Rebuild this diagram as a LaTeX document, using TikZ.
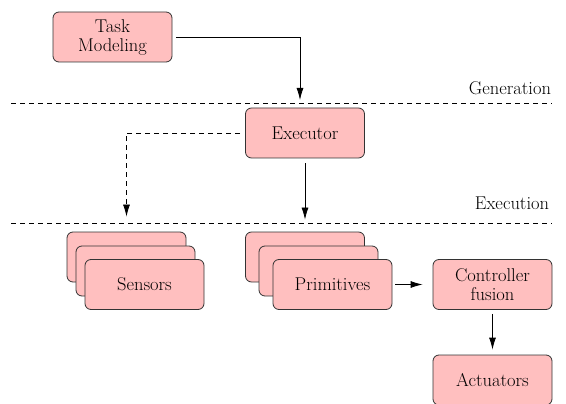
\documentclass[tikz,border=0pt]{standalone}
\usetikzlibrary{arrows.meta,positioning}
\definecolor{blockpink}{RGB}{255,191,191}

\begin{document}
\begin{tikzpicture}[x=1pt, y=-1pt, font=\fontsize{18.5}{19}\selectfont]

	\tikzstyle{block}=[rectangle, rounded corners=6pt, draw=black!80, line width=0.8pt, fill=blockpink, text=black, minimum width=119pt, minimum height=50pt, inner sep=0pt, align=center]
	\tikzstyle{link}=[-{Latex[length=12pt,width=7pt]}, line width=0.8pt, black]
	\tikzstyle{sep}=[line width=0.8pt, dash pattern=on 5pt off 4pt]

	\useasboundingbox (0,0) rectangle (566,404);

	\node[block] (tm) at (112.5,37)  {Task\\Modeling};
	\node[block] (ex) at (305,133)   {Executor};

	% stacked sensors
	\node[block] (s1) at (126.5,257) {};
	\node[block] (s2) at (135.5,271) {};
	\node[block] (s3) at (144.5,284.5) {Sensors};

	% stacked primitives
	\node[block] (p1) at (305,257)   {};
	\node[block] (p2) at (318.5,271) {};
	\node[block] (p3) at (332.5,284.5) {Primitives};

	\node[block] (cf) at (492.5,284.5) {Controller\\fusion};
	\node[block] (ac) at (492.5,380)   {Actuators};

	% layers
	\draw[sep] (11,103) -- (552,103);
	\draw[sep] (11,223) -- (552,223);
	\node (gen) at (510,88)  {Generation};
	\node (exe) at (512,203) {Execution};

	% links
	\coordinate (tmend) at (300,100);
	\draw[link, shorten <=4pt] (tm.east) -| (tmend);
	\draw[link, dash pattern=on 5pt off 4pt, shorten <=5pt, shorten >=15pt] (ex.west) -| (s1.north);
	\draw[link, shorten <=5pt, shorten >=12pt] (ex.south) -- (p1.north);
	\draw[link, shorten <=3pt, shorten >=10pt] (p3.east) -- (cf.west);
	\draw[link, shorten <=4pt, shorten >=5pt] (cf.south) -- (ac.north);
\end{tikzpicture}
\end{document}
